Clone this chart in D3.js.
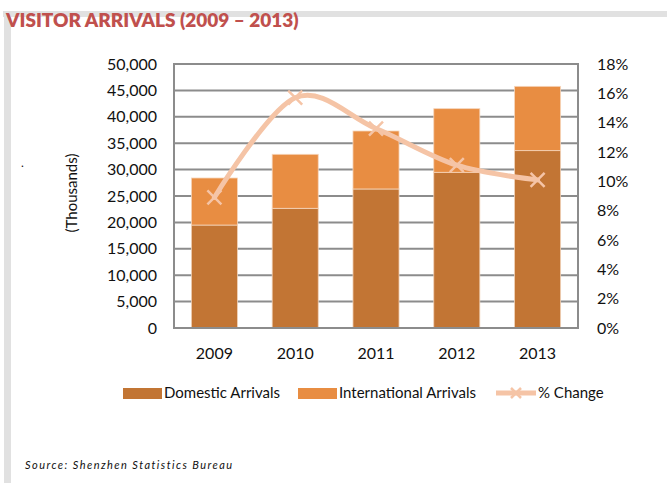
<!DOCTYPE html>
<html>
<head>
<meta charset="utf-8">
<script src="https://cdn.jsdelivr.net/npm/d3@7"></script>
<style>
  html, body { margin: 0; padding: 0; background: #fff; }
  svg { display: block; font-family: Lato, "Open Sans", sans-serif; }
</style>
</head>
<body>
<svg id="chart" width="667" height="483"></svg>
<script>
// Visitor arrivals to Shenzhen, in thousands, with year-on-year growth
const years = ["2009", "2010", "2011", "2012", "2013"];
const domestic = [19500, 22670, 26330, 29490, 33590];
const international = [8910, 10230, 10980, 12050, 12180];
const pctChange = [8.9, 15.7, 13.6, 11.1, 10.1];
const leftTicks = [0, 5000, 10000, 15000, 20000, 25000, 30000, 35000, 40000, 45000, 50000];
const rightTicks = [0, 2, 4, 6, 8, 10, 12, 14, 16, 18];
const seriesNames = ["Domestic Arrivals", "International Arrivals", "% Change"];

const colors = { domestic: "#c27534", international: "#e88d42", line: "#f5c4a6", grid: "#8c8c8c" };

const svg = d3.select("#chart");
svg.append("rect").attr("width", 667).attr("height", 483).attr("fill", "#fff");

// page frame
svg.append("rect").attr("x", 3).attr("y", 11).attr("width", 664).attr("height", 6).attr("fill", "#e1e1e1");
svg.append("rect").attr("x", 4).attr("y", 11).attr("width", 7).attr("height", 472).attr("fill", "#e1e1e1");

svg.append("text")
  .attr("x", 6).attr("y", 27)
  .attr("font-size", 19).attr("font-weight", 800)
  .attr("fill", "#c0504d")
  .text("VISITOR ARRIVALS (2009 \u2013 2013)");

const plot = { left: 174, right: 578, top: 64, bottom: 328 };

const x = d3.scaleBand().domain(years).range([plot.left, plot.right])
  .paddingInner(0.43).paddingOuter(0.215);
const yL = d3.scaleLinear().domain([0, 50000]).range([plot.bottom, plot.top]);
const yR = d3.scaleLinear().domain([0, 18]).range([plot.bottom, plot.top]);

// gridlines
svg.append("g").selectAll("line").data(leftTicks).join("line")
  .attr("x1", plot.left).attr("x2", plot.right)
  .attr("y1", d => yL(d)).attr("y2", d => yL(d))
  .attr("stroke", colors.grid).attr("stroke-width", 2);

// left axis labels
const fmt = d3.format(",");
svg.append("g").selectAll("text").data(leftTicks).join("text")
  .attr("x", 157).attr("y", d => yL(d))
  .attr("dy", "0.35em").attr("text-anchor", "end")
  .attr("font-size", 16).attr("fill", "#111")
  .text(d => fmt(d));

// right axis labels
svg.append("g").selectAll("text").data(rightTicks).join("text")
  .attr("x", 597).attr("y", d => yR(d))
  .attr("dy", "0.35em").attr("text-anchor", "start")
  .attr("font-size", 16).attr("fill", "#111")
  .text(d => d + "%");

svg.append("text")
  .attr("transform", "translate(77,193) rotate(-90)")
  .attr("text-anchor", "middle").attr("font-size", 15).attr("fill", "#111")
  .text("(Thousands)");
svg.append("text").attr("x", 21).attr("y", 167).attr("font-size", 12).attr("fill", "#111").text(".");

// stacked bars
const stacked = years.map((yr, i) => ({ yr, d: domestic[i], t: domestic[i] + international[i] }));
const bars = svg.append("g");
bars.selectAll("rect.dom").data(stacked).join("rect").attr("class", "dom")
  .attr("x", d => x(d.yr)).attr("width", x.bandwidth())
  .attr("y", d => yL(d.d)).attr("height", d => yL(0) - yL(d.d))
  .attr("fill", colors.domestic).attr("stroke", "#f1d2b8").attr("stroke-width", 0.8);
bars.selectAll("rect.intl").data(stacked).join("rect").attr("class", "intl")
  .attr("x", d => x(d.yr)).attr("width", x.bandwidth())
  .attr("y", d => yL(d.t)).attr("height", d => yL(d.d) - yL(d.t))
  .attr("fill", colors.international).attr("stroke", "#f6d6bc").attr("stroke-width", 0.8);

// plot border
svg.append("rect")
  .attr("x", plot.left).attr("y", plot.top)
  .attr("width", plot.right - plot.left).attr("height", plot.bottom - plot.top)
  .attr("fill", "none").attr("stroke", colors.grid).attr("stroke-width", 2);

// category labels
svg.append("g").selectAll("text").data(years).join("text")
  .attr("x", d => x(d) + x.bandwidth() / 2).attr("y", 359)
  .attr("text-anchor", "middle").attr("font-size", 16).attr("fill", "#111")
  .text(d => d);

// growth line (smoothed)
const pts = years.map((yr, i) => [x(yr) + x.bandwidth() / 2, yR(pctChange[i])]);
svg.append("path")
  .attr("d", d3.line().curve(d3.curveCardinal.tension(0))(pts))
  .attr("fill", "none").attr("stroke", colors.line).attr("stroke-width", 5)
  .attr("stroke-linecap", "round");

function xMark(g, cx, cy, r) {
  g.append("path")
    .attr("d", `M${cx - r},${cy - r}L${cx + r},${cy + r}M${cx - r},${cy + r}L${cx + r},${cy - r}`)
    .attr("stroke", colors.line).attr("stroke-width", 2.5).attr("fill", "none");
}
const marks = svg.append("g");
pts.forEach(p => xMark(marks, p[0], p[1], 7));

// legend
const lg = svg.append("g").attr("font-size", 15).attr("fill", "#111");
lg.append("rect").attr("x", 123).attr("y", 388).attr("width", 39).attr("height", 11).attr("fill", colors.domestic);
lg.append("text").attr("x", 164).attr("y", 393).attr("dy", "0.35em").text(seriesNames[0]);
lg.append("rect").attr("x", 298).attr("y", 388).attr("width", 39).attr("height", 11).attr("fill", colors.international);
lg.append("text").attr("x", 339).attr("y", 393).attr("dy", "0.35em").text(seriesNames[1]);
lg.append("line").attr("x1", 496).attr("x2", 536).attr("y1", 393).attr("y2", 393)
  .attr("stroke", colors.line).attr("stroke-width", 5);
xMark(lg, 516, 393, 5);
lg.append("text").attr("x", 538).attr("y", 393).attr("dy", "0.35em").text(seriesNames[2]);

// source note
svg.append("text")
  .attr("x", 25).attr("y", 469)
  .attr("font-size", 11).attr("font-style", "italic").attr("fill", "#111")
  .attr("letter-spacing", 1.45)
  .text("Source: Shenzhen Statistics Bureau");
</script>
</body>
</html>
